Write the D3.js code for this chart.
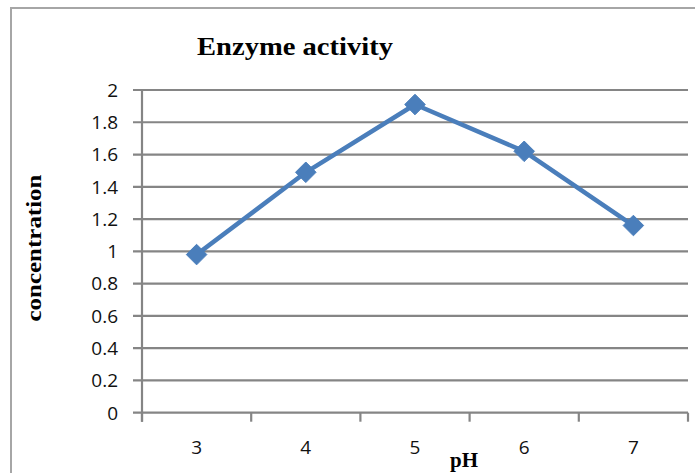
<!DOCTYPE html>
<html><head><meta charset="utf-8">
<script src="https://cdn.jsdelivr.net/npm/d3@7"></script>
<style>body{margin:0;background:#fff}svg{display:block}</style>
</head><body>
<script>
const categories = ["3","4","5","6","7"];
const values = [0.98, 1.49, 1.91, 1.62, 1.16];
const yTicks = [0,0.2,0.4,0.6,0.8,1,1.2,1.4,1.6,1.8,2];
const title = "Enzyme activity";
const xTitle = "pH";
const yTitle = "concentration";

const W = 695, H = 473;
const svg = d3.select("body").append("svg").attr("width", W).attr("height", H);
svg.append("rect").attr("width", W).attr("height", H).attr("fill", "#fff");
// outer chart border
svg.append("path").attr("d", `M11,${H} L11,8 L${W},8`).attr("fill","none").attr("stroke","#a6a6a6").attr("stroke-width",2);

const m = {l:142, r:688, t:90, b:412.7};
const x = d3.scaleBand().domain(categories).range([m.l, m.r]);
const y = d3.scaleLinear().domain([0,2]).range([m.b, m.t]);

const grid = "#858585";
svg.append("g").selectAll("line").data(yTicks).join("line")
  .attr("x1", m.l - 9).attr("x2", m.r).attr("y1", d=>y(d)).attr("y2", d=>y(d))
  .attr("stroke", grid).attr("stroke-width", 2.2);
svg.append("line").attr("x1", m.l).attr("x2", m.l).attr("y1", m.t).attr("y2", m.b + 9)
  .attr("stroke", grid).attr("stroke-width", 2.2);
const bounds = categories.map(c => x(c)).concat([m.r]);
svg.append("g").selectAll("line").data(bounds).join("line")
  .attr("x1", d=>d).attr("x2", d=>d).attr("y1", m.b).attr("y2", m.b + 9)
  .attr("stroke", grid).attr("stroke-width", 2.2);

const tickFont = "Open Sans, Liberation Sans, Arial, sans-serif";
svg.append("g").selectAll("text").data(yTicks).join("text")
  .attr("x", 118).attr("y", d=>y(d)).attr("dy","0.36em").attr("text-anchor","end")
  .attr("font-family",tickFont).attr("font-size",19).attr("fill","#111")
  .text(d=>d);
svg.append("g").selectAll("text").data(categories).join("text")
  .attr("x", d=>x(d)+x.bandwidth()/2).attr("y", 454).attr("text-anchor","middle")
  .attr("font-family",tickFont).attr("font-size",19).attr("fill","#111")
  .text(d=>d);

const serif = "Liberation Serif, Times New Roman, serif";
svg.append("text").attr("x", 197).attr("y", 55).attr("textLength", 196).attr("lengthAdjust","spacingAndGlyphs")
  .attr("font-family",serif).attr("font-weight","bold").attr("font-size",25)
  .attr("fill","#000").text(title);
svg.append("text").attr("x", 464).attr("y", 467).attr("text-anchor","middle")
  .attr("font-family",serif).attr("font-weight","bold").attr("font-size",21)
  .attr("fill","#000").text(xTitle);
svg.append("text").attr("transform","translate(41,248) rotate(-90)").attr("text-anchor","middle")
  .attr("textLength",147).attr("lengthAdjust","spacingAndGlyphs")
  .attr("font-family",serif).attr("font-weight","bold").attr("font-size",21)
  .attr("fill","#000").text(yTitle);

const pts = categories.map((c,i)=>[x(c)+x.bandwidth()/2, y(values[i])]);
const blue = "#4a7ebb";
svg.append("path").attr("d", d3.line()(pts)).attr("fill","none").attr("stroke",blue)
  .attr("stroke-width",4.5).attr("stroke-linejoin","round");
svg.append("g").selectAll("path").data(pts).join("path")
  .attr("transform", d=>`translate(${d[0]},${d[1]})`)
  .attr("d", d3.symbol(d3.symbolDiamond2, 270)())
  .attr("fill", blue).attr("stroke", blue).attr("stroke-width",1);
</script>
</body></html>
